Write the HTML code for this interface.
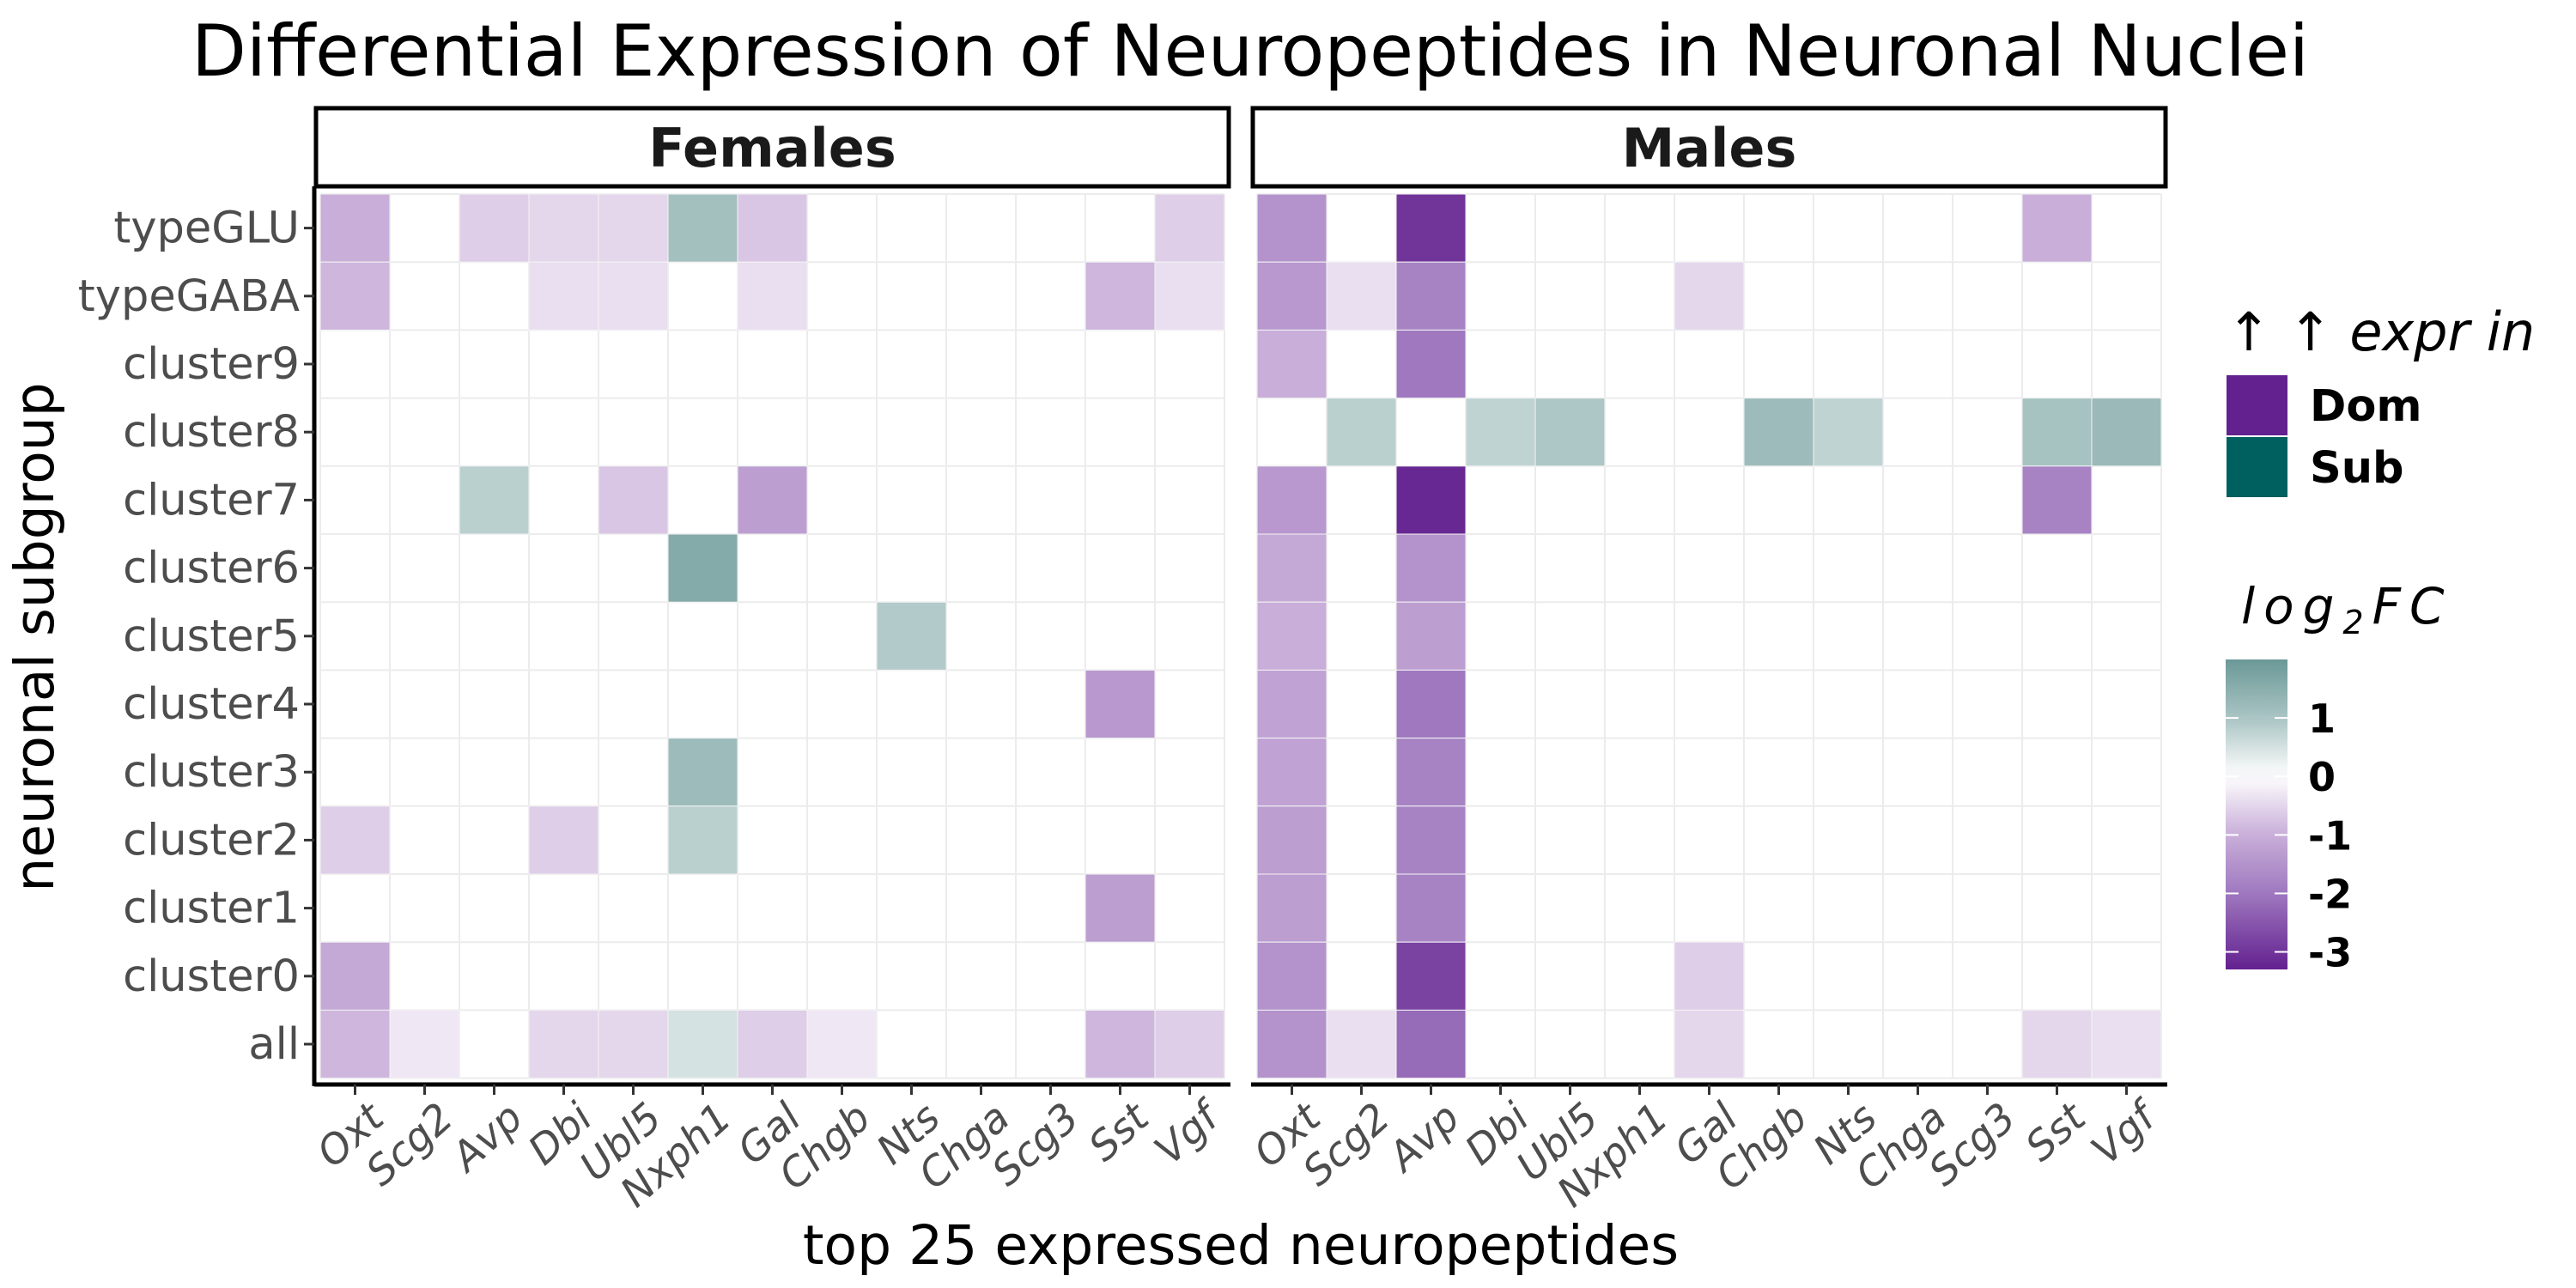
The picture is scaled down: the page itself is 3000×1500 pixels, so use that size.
<!DOCTYPE html>
<html><head><meta charset="utf-8"><style>
html,body{margin:0;padding:0;background:#fff}
svg{display:block;font-family:"DejaVu Sans","Liberation Sans",sans-serif}
</style></head><body>
<svg id="chart" width="3000" height="1500" viewBox="0 0 3000 1500" xmlns="http://www.w3.org/2000/svg">
<rect width="3000" height="1500" fill="#fff"/>
<text x="1456" y="88" font-size="83" text-anchor="middle" fill="#000">Differential Expression of Neuropeptides in Neuronal Nuclei</text>
<g id="panels"></g>
<text x="1445" y="1472" font-size="63" text-anchor="middle" fill="#000">top 25 expressed neuropeptides</text>
<text transform="translate(62,742) rotate(-90)" font-size="63" text-anchor="middle" fill="#000">neuronal subgroup</text>
<g>
<text x="2593" y="408" font-size="62" font-style="italic" fill="#000">↑ ↑ expr in</text>
<rect x="2593" y="437" width="71" height="70" fill="#63218f"/>
<text x="2690" y="490" font-size="51" font-weight="bold" fill="#000">Dom</text>
<rect x="2593" y="509" width="71" height="70" fill="#005f5f"/>
<text x="2690" y="562" font-size="51" font-weight="bold" fill="#000">Sub</text>
</g>
<g>
<text x="2610" y="726" font-size="58" font-style="italic" letter-spacing="10" fill="#000">log<tspan font-size="38" dy="12">2</tspan><tspan dy="-12">FC</tspan></text>
<g id="cbar"></g>
</g>
</svg>
<script>
const genes = ["Oxt","Scg2","Avp","Dbi","Ubl5","Nxph1","Gal","Chgb","Nts","Chga","Scg3","Sst","Vgf"];
const groups = ["typeGLU","typeGABA","cluster9","cluster8","cluster7","cluster6","cluster5","cluster4","cluster3","cluster2","cluster1","cluster0","all"];
const femalesValues = [
 [-1.0,0,-0.6,-0.5,-0.5,1.1,-0.7,0,0,0,0,0,-0.6],
 [-0.9,0,0,-0.4,-0.4,0,-0.4,0,0,0,0,-0.9,-0.4],
 [0,0,0,0,0,0,0,0,0,0,0,0,0],
 [0,0,0,0,0,0,0,0,0,0,0,0,0],
 [0,0,0.8,0,-0.7,0,-1.3,0,0,0,0,0,0],
 [0,0,0,0,0,1.6,0,0,0,0,0,0,0],
 [0,0,0,0,0,0,0,0,0.9,0,0,0,0],
 [0,0,0,0,0,0,0,0,0,0,0,-1.4,0],
 [0,0,0,0,0,1.2,0,0,0,0,0,0,0],
 [-0.6,0,0,-0.6,0,0.8,0,0,0,0,0,0,0],
 [0,0,0,0,0,0,0,0,0,0,0,-1.3,0],
 [-1.1,0,0,0,0,0,0,0,0,0,0,0,0],
 [-0.9,-0.3,0,-0.5,-0.5,0.5,-0.6,-0.3,0,0,0,-0.9,-0.6]
];
const malesValues = [
 [-1.5,0,-3.0,0,0,0,0,0,0,0,0,-1.0,0],
 [-1.4,-0.4,-1.8,0,0,0,-0.5,0,0,0,0,0,0],
 [-1.0,0,-2.0,0,0,0,0,0,0,0,0,0,0],
 [0,0.8,0,0.75,0.95,0,0,1.2,0.75,0,0,1.05,1.25],
 [-1.4,0,-3.2,0,0,0,0,0,0,0,0,-1.8,0],
 [-1.1,0,-1.5,0,0,0,0,0,0,0,0,0,0],
 [-1.0,0,-1.3,0,0,0,0,0,0,0,0,0,0],
 [-1.2,0,-2.0,0,0,0,0,0,0,0,0,0,0],
 [-1.2,0,-1.8,0,0,0,0,0,0,0,0,0,0],
 [-1.3,0,-1.8,0,0,0,0,0,0,0,0,0,0],
 [-1.3,0,-1.8,0,0,0,0,0,0,0,0,0,0],
 [-1.5,0,-2.8,0,0,0,-0.6,0,0,0,0,0,0],
 [-1.5,-0.4,-2.2,0,0,0,-0.5,0,0,0,0,-0.5,-0.4]
];
const panelNames = ["Females","Males"];
const cbarTicks = [1,0,-1,-2,-3];

const NS="http://www.w3.org/2000/svg";
const stops=[[2,[107,153,151]],[1,[169,196,195]],[0,[255,255,255]],[-1,[200,174,217]],[-2,[159,120,191]],[-3.3,[99,33,143]]];
function color(v){
  if(v>=stops[0][0]) return rgb(stops[0][1]);
  for(let i=0;i<stops.length-1;i++){
    const a=stops[i],b=stops[i+1];
    if(v<=a[0]&&v>=b[0]){const t=(a[0]-v)/(a[0]-b[0]);return rgb(a[1].map((c,k)=>c+(b[1][k]-c)*t));}
  }
  return rgb(stops[stops.length-1][1]);
}
function rgb(c){return "rgb("+c.map(Math.round).join(",")+")";}
function el(tag,attrs,parent){const e=document.createElementNS(NS,tag);for(const k in attrs)e.setAttribute(k,attrs[k]);parent.appendChild(e);return e;}

const top0=226,cellH=79.2,cellW=81;
const panelX=[373,1464];
const yScale=i=>top0+i*cellH;
const panelsG=document.getElementById("panels");
[femalesValues,malesValues].forEach((vals,p)=>{
  const x0=panelX[p];
  const xScale=j=>x0+j*cellW;
  const g=el("g",{},panelsG);
  
  
  const sr=el("rect",{x:x0-5,y:126,width:cellW*13+10,height:91,fill:"#fff",stroke:"#000","stroke-width":5},g);
  
  
  const st=el("text",{x:x0+cellW*6.5,y:194,"font-size":62,"font-weight":"bold","text-anchor":"middle",fill:"#1a1a1a"},g);
  st.textContent=panelNames[p];
  
  
  for(let j=0;j<=13;j++){el("line",{x1:xScale(j),x2:xScale(j),y1:top0,y2:yScale(13),stroke:"#ececec","stroke-width":2},g);}
  for(let i=0;i<=13;i++){el("line",{x1:x0,x2:xScale(13),y1:yScale(i),y2:yScale(i),stroke:"#ececec","stroke-width":2},g);}
  vals.forEach((row,i)=>row.forEach((v,j)=>{
    if(v===0) return;
    const r=el("rect",{x:xScale(j),y:yScale(i),width:cellW,height:cellH,fill:color(v),stroke:"#f4f4f4","stroke-width":1},g);
    
    
  }));
  el("line",{x1:x0-7,x2:xScale(13)+7,y1:1263,y2:1263,stroke:"#000","stroke-width":5},g);
  genes.forEach((gn,j)=>{
    const cx=xScale(j)+cellW/2;
    el("line",{x1:cx,x2:cx,y1:1263,y2:1275,stroke:"#333","stroke-width":3},g);
    const t=el("text",{transform:`translate(${cx+36},${1306}) rotate(-42)`,"font-size":47,"font-style":"italic","text-anchor":"end",fill:"#4d4d4d"},g);
    t.textContent=gn;
    
    
  });
  if(p===0){
    el("line",{x1:366,x2:366,y1:217,y2:1265,stroke:"#000","stroke-width":5},g);
    groups.forEach((gr,i)=>{
      const cy=yScale(i)+cellH/2;
      el("line",{x1:354,x2:366,y1:cy,y2:cy,stroke:"#333","stroke-width":3},g);
      const t=el("text",{x:349,y:cy+17,"font-size":51,"text-anchor":"end",fill:"#4d4d4d"},g);
      t.textContent=gr;
      
      
    });
  }
});
const cb=document.getElementById("cbar");
const cbTop=768,cbBot=1129,cbMax=2,cbMin=-3.3;
const cbY=v=>cbTop+(cbMax-v)/(cbMax-cbMin)*(cbBot-cbTop);
const defs=el("defs",{},cb);
const lg=el("linearGradient",{id:"cbg",x1:0,y1:0,x2:0,y2:1},defs);
for(let k=0;k<=20;k++){const v=cbMax-(cbMax-cbMin)*k/20;el("stop",{offset:k/20,"stop-color":color(v)},lg);}
const cr=el("rect",{x:2592,y:cbTop,width:72,height:cbBot-cbTop,fill:"url(#cbg)"},cb);


cbarTicks.forEach(v=>{
  const y=cbY(v);
  el("line",{x1:2592,x2:2607,y1:y,y2:y,stroke:"#fff","stroke-width":2},cb);
  el("line",{x1:2649,x2:2664,y1:y,y2:y,stroke:"#fff","stroke-width":2},cb);
  const t=el("text",{x:2688,y:y+17,"font-size":46,"font-weight":"bold",fill:"#000"},cb);
  t.textContent=String(v);
  
  
});
</script>
</body></html>
